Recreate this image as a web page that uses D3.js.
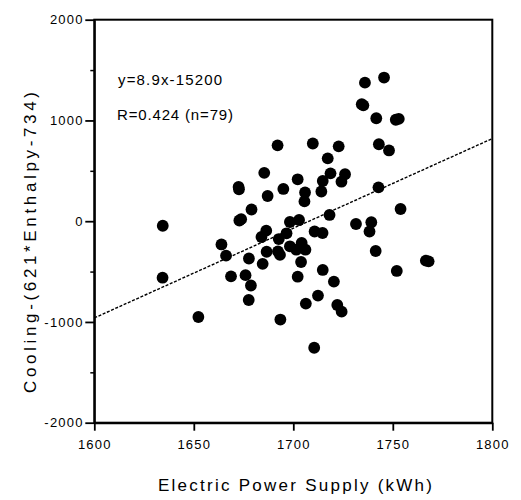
<!DOCTYPE html>
<html>
<head>
<meta charset="utf-8">
<script src="https://cdn.jsdelivr.net/npm/d3@7"></script>
<style>
  body { margin: 0; background: #fff; }
  svg { display: block; font-family: "Liberation Sans", Arial, sans-serif; }
</style>
</head>
<body>
<svg id="chart" width="521" height="500"></svg>
<script>
// values (kWh vs cooling index)
const powerSupply = [
  1634.4, 1634.3, 1652.3, 1663.9, 1666.2, 1672.7, 1672.9, 1679.0, 1668.7, 1676.0,
  1678.7, 1677.6, 1677.7, 1684.6, 1684.0, 1686.4, 1685.4, 1687.1, 1692.1, 1695.0,
  1702.2, 1705.9, 1705.6, 1709.8, 1717.3, 1718.7, 1714.8, 1714.1, 1726.0, 1724.2,
  1722.8, 1736.0, 1745.6, 1734.4, 1741.7, 1751.5, 1743.0, 1748.1, 1742.8, 1753.9,
  1718.2, 1698.3, 1702.9, 1731.5, 1739.2, 1738.3, 1710.7, 1714.7, 1696.6, 1692.7,
  1686.6, 1692.3, 1698.3, 1704.2, 1706.1, 1701.5, 1693.3, 1703.9, 1702.2, 1714.8,
  1720.4, 1712.4, 1706.3, 1722.1, 1724.3, 1693.5, 1710.5, 1752.0, 1766.6, 1741.4,
  1768.0, 1753.0, 1735.2, 1672.5, 1673.8
];
const cooling = [
  -45, -561, -951, -231, -342, 317, 7, 116, -547, -536,
  -638, -782, -370, -423, -157, -94, 480, 250, 753, 320,
  416, 285, 196, 771, 624, 475, 399, 295, 466, 392,
  743, 1375, 1426, 1161, 1022, 1007, 764, 702, 336, 121,
  62, -8, 12, -28, -10, -102, -102, -117, -120, -177,
  -303, -299, -249, -216, -283, -283, -335, -405, -551, -484,
  -599, -738, -818, -832, -898, -976, -1256, -494, -392, -296,
  -398, 1015, 1150, 340, 20
];

// regression line end points
const fitX = [1600, 1800];
const fitY = [-960, 820];

const xTicks = [1600, 1650, 1700, 1750, 1800];
const yTicks = [-2000, -1000, 0, 1000, 2000];
const yMinor = [-1500, -500, 500, 1500];

const eqLabel = "y=8.9x-15200";
const rLabel = "R=0.424 (n=79)";

const svg = d3.select("#chart");
const plotL = 94.3, plotR = 492.3, plotT = 19.7, plotB = 422.7;

const x = d3.scaleLinear().domain([1600, 1800]).range([plotL, plotR]);
const y = d3.scaleLinear().domain([-2000, 2000]).range([plotB, plotT]);

// frame
svg.append("rect")
  .attr("x", plotL).attr("y", plotT)
  .attr("width", plotR - plotL).attr("height", plotB - plotT)
  .attr("fill", "none").attr("stroke", "#000").attr("stroke-width", 2);

// axes (plain hyphen for negatives, like the original)
const plain = d => String(d);
const xAxis = svg.append("g")
  .attr("transform", `translate(0,${plotB})`)
  .call(d3.axisBottom(x).tickValues(xTicks).tickSize(8).tickSizeOuter(0).tickFormat(plain));
const yAxis = svg.append("g")
  .attr("transform", `translate(${plotL},0)`)
  .call(d3.axisLeft(y).tickValues(yTicks).tickSize(9).tickSizeOuter(0).tickFormat(plain));

svg.append("g")
  .attr("transform", `translate(${plotL},0)`)
  .call(d3.axisLeft(y).tickValues(yMinor).tickSize(4).tickSizeOuter(0).tickFormat(""))
  .call(g => g.select(".domain").remove())
  .selectAll("line").attr("stroke-width", 1.5);

[xAxis, yAxis].forEach(g => {
  g.select(".domain").attr("stroke-width", 2);
  g.selectAll(".tick line").attr("stroke-width", 1.8);
  g.selectAll(".tick text")
    .attr("font-size", 13)
    .attr("letter-spacing", 1.2)
    .attr("fill", "#000")
    .attr("font-family", "'Liberation Sans', Arial, sans-serif");
});
xAxis.selectAll(".tick text").attr("dy", "1.15em");
yAxis.selectAll(".tick text").attr("dx", "0.1em");

// regression line
svg.append("line")
  .attr("x1", x(fitX[0])).attr("y1", y(fitY[0]))
  .attr("x2", x(fitX[1])).attr("y2", y(fitY[1]))
  .attr("stroke", "#000")
  .attr("stroke-width", 1.4)
  .attr("stroke-dasharray", "3,1.6");

// points
svg.append("g")
  .selectAll("circle")
  .data(powerSupply.map((v, i) => [v, cooling[i]]))
  .join("circle")
  .attr("cx", d => x(d[0]))
  .attr("cy", d => y(d[1]))
  .attr("r", 5.9)
  .attr("fill", "#000");

// annotations
svg.append("text")
  .attr("x", 118).attr("y", 85)
  .attr("font-size", 15)
  .attr("textLength", 104).attr("lengthAdjust", "spacing")
  .text(eqLabel);
svg.append("text")
  .attr("x", 117).attr("y", 119.5)
  .attr("font-size", 15)
  .attr("textLength", 116).attr("lengthAdjust", "spacing")
  .text(rLabel);

// axis titles
svg.append("text")
  .attr("x", 158).attr("y", 491)
  .attr("font-size", 17)
  .attr("textLength", 274).attr("lengthAdjust", "spacing")
  .text("Electric Power Supply (kWh)");
svg.append("text")
  .attr("transform", "translate(36,393) rotate(-90)")
  .attr("font-size", 17)
  .attr("textLength", 301).attr("lengthAdjust", "spacing")
  .text("Cooling-(621*Enthalpy-734)");
</script>
</body>
</html>
